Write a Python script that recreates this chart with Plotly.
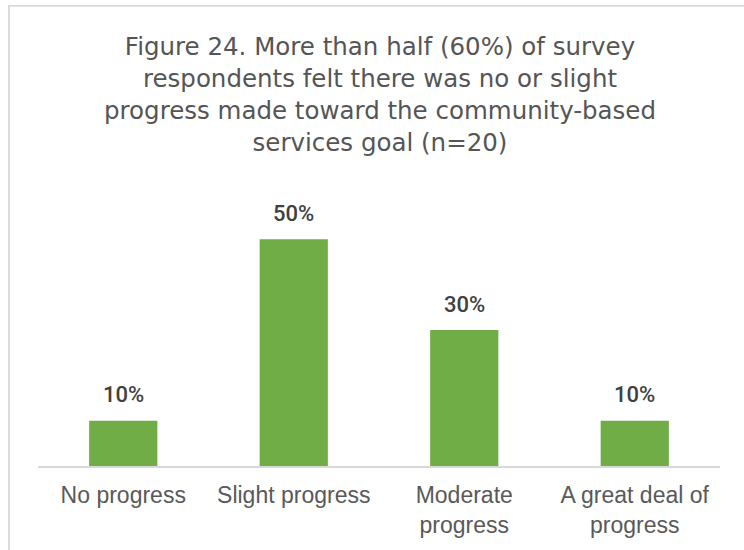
import plotly.graph_objects as go

# Survey responses: perceived progress toward the community-based services goal
categories = ["No progress", "Slight progress", "Moderate<br>progress", "A great deal of<br>progress"]
shares = [0.10, 0.50, 0.30, 0.10]
value_labels = ["10%", "50%", "30%", "10%"]

title_lines = [
    "Figure 24. More than half (60%) of survey",
    "respondents felt there was no or slight",
    "progress made toward the community-based",
    "services goal (n=20)",
]

W, H = 744, 550
M_L, M_R, M_T, M_B = 38, 24, 194, 84
plot_w = W - M_L - M_R
plot_h = H - M_T - M_B


def px_to_paper_x(px):
    return (px - M_L) / plot_w


def px_to_paper_y(py):
    return (H - M_B - py) / plot_h


fig = go.Figure()
fig.add_trace(go.Bar(
    x=categories,
    y=shares,
    marker=dict(color="#70AD47", line=dict(width=0)),
    hoverinfo="skip",
))

# value labels placed above each bar
for cat, val, lab in zip(categories, shares, value_labels):
    fig.add_annotation(
        x=cat, y=val, xref="x", yref="y",
        text=lab, showarrow=False,
        yanchor="middle", yshift=26,
        font=dict(family="Roboto, Arial, sans-serif", size=22, color="#404040", weight=500),
    )

# chart title as one centred multi-line block
fig.add_annotation(
    x=px_to_paper_x(380), y=px_to_paper_y(94.5), xref="paper", yref="paper",
    text="<br>".join(title_lines), showarrow=False,
    xanchor="center", yanchor="middle", align="center",
    font=dict(family="DejaVu Sans, Verdana, sans-serif", size=24.5, color="#555555"),
)

# outer chart frame
fig.add_shape(
    type="rect", xref="paper", yref="paper",
    x0=px_to_paper_x(9), x1=px_to_paper_x(760),
    y0=px_to_paper_y(570), y1=px_to_paper_y(5.8),
    line=dict(color="#D9D9D9", width=1.8), fillcolor="rgba(0,0,0,0)",
    layer="below",
)

fig.update_layout(
    width=W, height=H,
    margin=dict(l=M_L, r=M_R, t=M_T, b=M_B),
    paper_bgcolor="white", plot_bgcolor="white",
    bargap=0.6,
    showlegend=False,
    xaxis=dict(
        showline=True, linecolor="#D9D9D9", linewidth=1.5,
        showgrid=False, ticks="", zeroline=False,
        ticklabelstandoff=8,
        tickfont=dict(family="'Liberation Sans', Arial, sans-serif", size=23, color="#595959"),
        fixedrange=True,
    ),
    yaxis=dict(
        range=[0, 0.6], visible=False, showgrid=False, zeroline=False,
        fixedrange=True,
    ),
)

fig.write_html("out.html")
